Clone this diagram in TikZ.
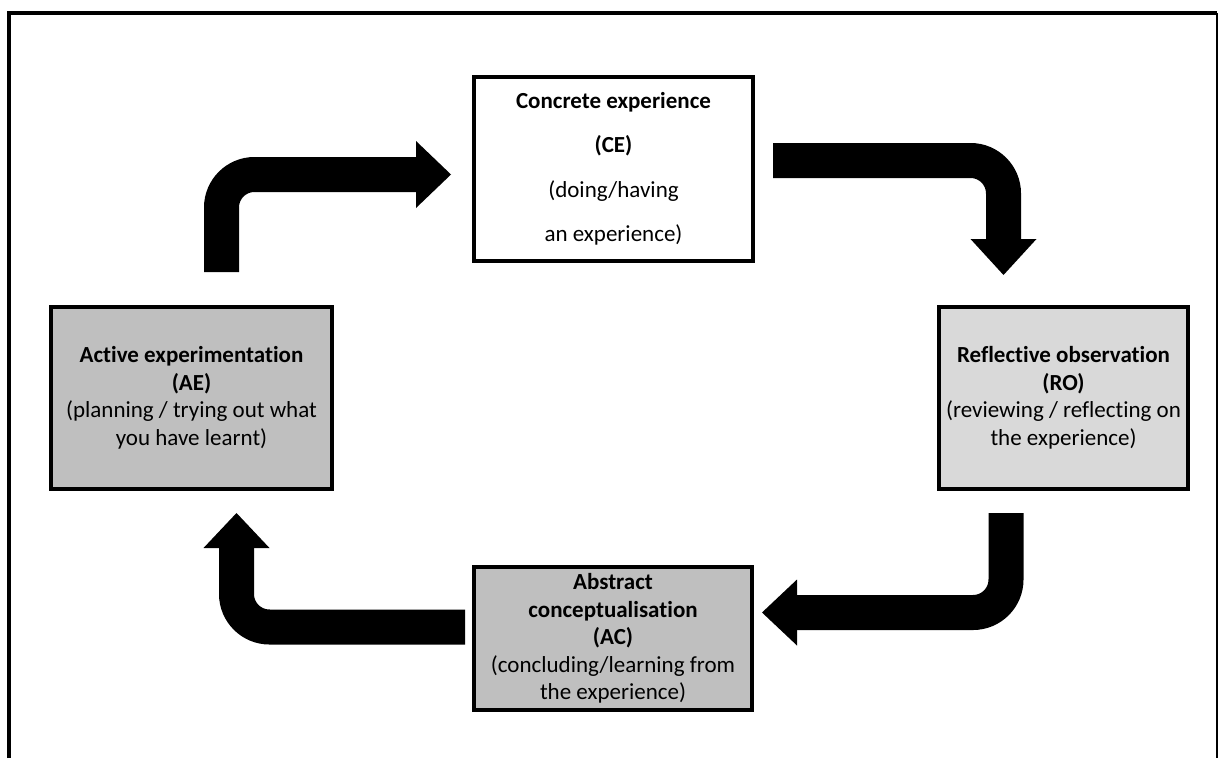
\documentclass[tikz,border=0pt]{standalone}
\usepackage{fontspec}
\setmainfont{Carlito}[Ligatures=NoCommon]
\definecolor{boxgray}{RGB}{191,191,191}
\definecolor{boxlight}{RGB}{217,217,217}
\tikzset{
  stage/.style={draw=black, line width=3.5pt, align=center, inner sep=0pt,
    font=\fontsize{23}{27.5}\selectfont},
  shaft/.style={draw=black, line width=35pt, rounded corners=33pt},
  head/.style={fill=black},
  frame/.style={draw=black}
}
\begin{document}
\begin{tikzpicture}[x=1pt,y=-1pt]
\useasboundingbox (0,0) rectangle (1218,758);

% open frame (no bottom edge)
\draw[frame, line width=4pt] (9,758) -- (9,13) -- (1217,13);
\draw[frame, line width=2pt] (1217,13) -- (1217,758);

% the four stages
\node[stage, fill=white, minimum width=279pt, minimum height=184pt,
      font=\fontsize{23}{44.5}\selectfont] (CE) at (613.5,169)
  {\textbf{Concrete experience}\\\textbf{(CE)}\\(doing/having\\an experience)};
\node[stage, fill=boxlight, minimum width=249pt, minimum height=182pt] (RO) at (1063.5,398)
  {\textbf{Reflective observation}\\\textbf{(RO)}\\(reviewing / reflecting on\\the experience)};
\node[stage, fill=boxgray, minimum width=278pt, minimum height=143pt] (AC) at (613,638.5)
  {\textbf{Abstract}\\\textbf{conceptualisation}\\\textbf{(AC)}\\(concluding/learning from\\the experience)};
\node[stage, fill=boxgray, minimum width=281pt, minimum height=182pt] (AE) at (191.5,398)
  {\textbf{Active experimentation}\\\textbf{(AE)}\\(planning / trying out what\\you have learnt)};

% end points of the bent arrows
\coordinate (a1s) at (221.5,272);  \coordinate (a1b) at (416,174.5);
\coordinate (a2s) at (773,160.5);  \coordinate (a2b) at (1003.5,239);
\coordinate (a3s) at (1006,513);   \coordinate (a3b) at (797,612.5);
\coordinate (a4s) at (465,627);    \coordinate (a4b) at (236.5,548);

% AE -> CE
\draw[shaft] (a1s) |- (a1b);
\fill[head] ([yshift=33.5pt]a1b) -- ++(35,33.5) -- ++(-35,33.5) -- cycle;
% CE -> RO
\draw[shaft] (a2s) -| (a2b);
\fill[head] ([xshift=-33pt]a2b) -- ++(33,36) -- ++(33,-36) -- cycle;
% RO -> AC
\draw[shaft] (a3s) |- (a3b);
\fill[head] ([yshift=33pt]a3b) -- ++(-35,33) -- ++(35,33) -- cycle;
% AC -> AE
\draw[shaft] (a4s) -| (a4b);
\fill[head] ([xshift=-33pt]a4b) -- ++(33,-35) -- ++(33,35) -- cycle;
\end{tikzpicture}
\end{document}
